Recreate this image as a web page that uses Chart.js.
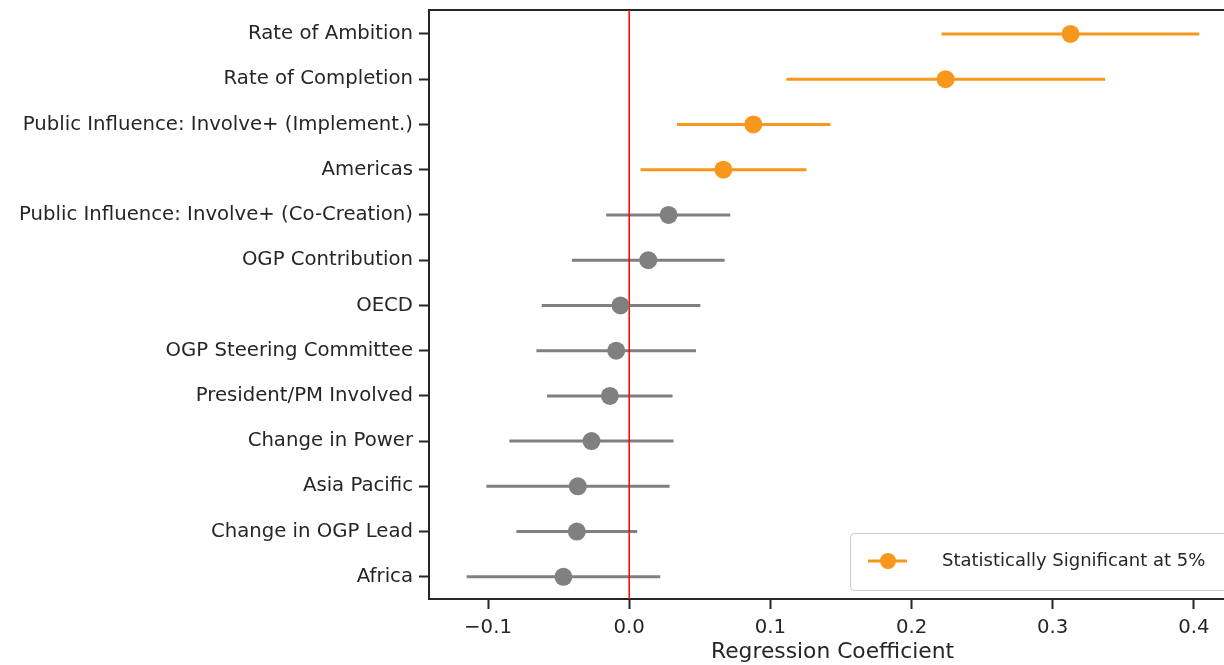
<!DOCTYPE html>
<html>
<head>
<meta charset="utf-8">
<script src="https://cdn.jsdelivr.net/npm/chart.js@4/dist/chart.umd.min.js"></script>
<style>
  html, body { margin: 0; padding: 0; overflow: hidden; background: #fff; }
  #wrap { width: 1236px; height: 665px; }
</style>
</head>
<body>
<div id="wrap"><canvas id="chart" width="1236" height="665"></canvas></div>
<script>
// regression results, top row first
const labels = [
  "Rate of Ambition",
  "Rate of Completion",
  "Public Influence: Involve+ (Implement.)",
  "Americas",
  "Public Influence: Involve+ (Co-Creation)",
  "OGP Contribution",
  "OECD",
  "OGP Steering Committee",
  "President/PM Involved",
  "Change in Power",
  "Asia Pacific",
  "Change in OGP Lead",
  "Africa"
];
const coef   = [0.3126, 0.2241, 0.0879, 0.0667, 0.0279, 0.0135, -0.0062, -0.0092, -0.0137, -0.0267, -0.0364, -0.0371, -0.0466];
const ciLow  = [0.2213, 0.1113, 0.0338, 0.0080, -0.0163, -0.0406, -0.0619, -0.0657, -0.0582, -0.0849, -0.1012, -0.0799, -0.1151];
const ciHigh = [0.4038, 0.3371, 0.1426, 0.1255, 0.0716, 0.0676, 0.0504, 0.0473, 0.0307, 0.0314, 0.0286, 0.0057, 0.0220];
const significant = [true, true, true, true, false, false, false, false, false, false, false, false, false];
const xTicks = [-0.1, 0.0, 0.1, 0.2, 0.3, 0.4];
const legendText = "Statistically Significant at 5%";

const ORANGE = "#f7981d";
const GREY = "#808080";
const INK = "#262626";
const FONT = "'DejaVu Sans', sans-serif";
const Y_MIN = -0.53, Y_MAX = 12.49;

function bars(sig) {
  const out = [];
  labels.forEach((_, i) => {
    if (significant[i] !== sig) return;
    out.push({x: ciLow[i], y: i}, {x: ciHigh[i], y: i}, {x: null, y: null});
  });
  return out;
}
function points(sig) {
  return labels.map((_, i) => ({x: coef[i], y: i})).filter((_, i) => significant[i] === sig);
}

// no extra room for overhanging tick labels
function noPad(s) {
  s.paddingTop = 0; s.paddingBottom = 0; s.paddingLeft = 0; s.paddingRight = 0;
}

// legend box in the lower right of the plot
const insideLegend = {
  id: "insideLegend",
  afterDraw(chart) {
    const ctx = chart.ctx;
    ctx.save();
    const x = 850, y = 533, w = 420, h = 57;
    ctx.beginPath();
    ctx.roundRect(x + 0.5, y + 0.5, w, h, 4);
    ctx.fillStyle = "rgba(255,255,255,0.85)";
    ctx.fill();
    ctx.strokeStyle = "#cccccc";
    ctx.lineWidth = 1;
    ctx.stroke();
    const my = y + 28;
    ctx.strokeStyle = ORANGE;
    ctx.lineWidth = 3;
    ctx.beginPath();
    ctx.moveTo(868, my);
    ctx.lineTo(907, my);
    ctx.stroke();
    ctx.fillStyle = ORANGE;
    ctx.beginPath();
    ctx.arc(888, my, 8, 0, Math.PI * 2);
    ctx.fill();
    ctx.fillStyle = INK;
    ctx.font = "18px " + FONT;
    ctx.textBaseline = "middle";
    ctx.fillText(legendText, 942, my);
    ctx.restore();
  }
};

new Chart(document.getElementById("chart").getContext("2d"), {
  type: "scatter",
  data: {
    datasets: [
      {
        data: points(true), backgroundColor: ORANGE, borderColor: ORANGE,
        pointRadius: 9, pointHoverRadius: 9, borderWidth: 0, order: 0
      },
      {
        data: points(false), backgroundColor: GREY, borderColor: GREY,
        pointRadius: 9, pointHoverRadius: 9, borderWidth: 0, order: 0
      },
      {
        data: [{x: 0, y: Y_MIN}, {x: 0, y: Y_MAX}], showLine: true,
        borderColor: "#ff0000", borderWidth: 1.5, pointRadius: 0, order: 1
      },
      {
        data: bars(true), showLine: true, spanGaps: false,
        borderColor: ORANGE, borderWidth: 3, pointRadius: 0, order: 2
      },
      {
        data: bars(false), showLine: true, spanGaps: false,
        borderColor: GREY, borderWidth: 3, pointRadius: 0, order: 2
      }
    ]
  },
  options: {
    responsive: false,
    animation: false,
    layout: { padding: 0, autoPadding: false },
    plugins: { legend: { display: false }, tooltip: { enabled: false } },
    scales: {
      x: {
        type: "linear", position: "bottom",
        min: -0.1418, max: 0.4298,
        afterBuildTicks: s => { s.ticks = xTicks.map(v => ({value: v})); },
        afterFit: s => { s.height = 66; noPad(s); },
        grid: { drawOnChartArea: false, tickLength: 10, tickWidth: 2, tickColor: INK },
        border: { width: 2, color: INK },
        ticks: {
          padding: 7, color: INK, font: { family: FONT, size: 19.7 },
          callback: v => (v < 0 ? "\u2212" : "") + Math.abs(v).toFixed(1)
        },
        title: {
          display: true, text: "Regression Coefficient", color: INK,
          font: { family: FONT, size: 21.8 }, padding: { top: 0, bottom: 0 }
        }
      },
      xTop: {
        type: "linear", position: "top",
        min: -0.1418, max: 0.4298,
        afterFit: s => { s.height = 10; noPad(s); },
        grid: { drawOnChartArea: false, drawTicks: false },
        border: { width: 2, color: INK },
        ticks: { display: false }
      },
      y: {
        type: "linear", reverse: true,
        min: Y_MIN, max: Y_MAX,
        afterBuildTicks: s => { s.ticks = labels.map((_, i) => ({value: i})); },
        afterFit: s => { s.width = 429; noPad(s); },
        grid: { drawOnChartArea: false, tickLength: 10, tickWidth: 2, tickColor: INK },
        border: { width: 2, color: INK },
        ticks: {
          padding: 6, color: INK, font: { family: FONT, size: 19.7 },
          callback: v => labels[v]
        }
      }
    }
  },
  plugins: [insideLegend]
});
</script>
</body>
</html>
